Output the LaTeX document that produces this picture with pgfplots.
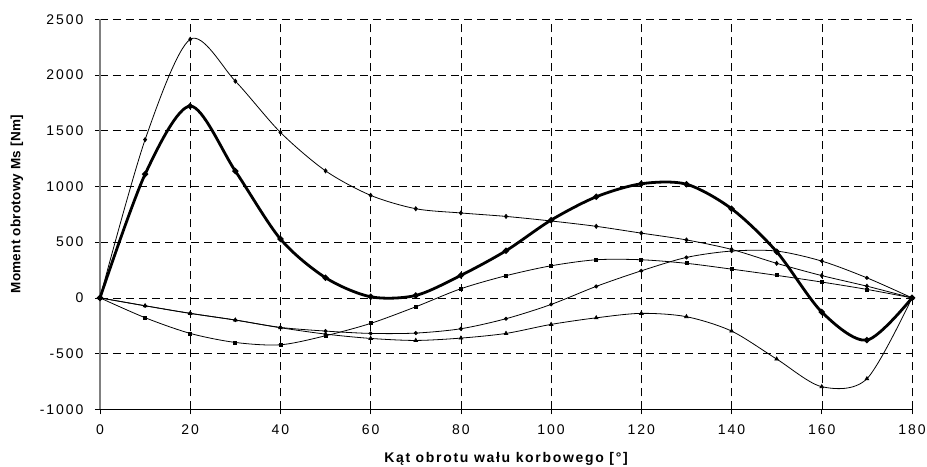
\documentclass[border=0pt]{standalone}
\usepackage{fontspec}
\setmainfont{Liberation Sans}
\newfontfamily\tickfont[LetterSpace=14]{Liberation Sans}
\newfontfamily\labfont[LetterSpace=12]{Liberation Sans}
\newfontfamily\ylabfont[LetterSpace=2]{Liberation Sans}
\usepackage{pgfplots}
\pgfplotsset{compat=1.18}
\begin{document}
\begin{tikzpicture}
\begin{axis}[
  scale only axis, width=812bp, height=390bp,
  xmin=0, xmax=180, ymin=-1000, ymax=2500,
  xtick={0,20,...,180}, ytick={-1000,-500,...,2500},
  axis x line*=bottom, axis y line*=left,
  tick align=outside, major tick length=5bp,
  grid=major,
  grid style={black, dash pattern=on 8bp off 5bp, line width=0.5bp},
  tick style={black, line width=0.6bp},
  x axis line style={black, line width=0.8bp},
  y axis line style={gray, line width=1.2bp},
  ticklabel style={font=\tickfont\fontsize{14bp}{16bp}\selectfont},
  yticklabel style={xshift=-8bp},
  xticklabel style={yshift=-7bp},
  /pgf/number format/assume math mode=true,
  /pgf/number format/1000 sep={},
  xlabel={Kąt obrotu wału korbowego [°]},
  ylabel={Moment obrotowy Ms [Nm]},
  xlabel style={font=\labfont\bfseries\fontsize{14bp}{16bp}\selectfont, at={(axis description cs:0.5,-0.128)}, anchor=center},
  ylabel style={font=\ylabfont\bfseries\fontsize{13.5bp}{16bp}\selectfont, at={(axis description cs:-0.1022,0.526)}, anchor=center},
  every axis plot/.append style={smooth, black},
  mark size=1.6bp,
]
\coordinate (sw) at (rel axis cs:0,0);
\coordinate (ne) at (rel axis cs:1,1);
% top series (diamonds)
\addplot[line width=0.8bp, mark=diamond*, mark size=2bp] coordinates {
(0,0) (10,1420) (20,2320) (30,1945) (40,1485) (50,1140) (60,920) (70,800) (80,762) (90,731)
(100,690) (110,642) (120,581) (130,520) (140,435) (150,310) (160,200) (170,105) (180,0)};
% square series
\addplot[line width=0.8bp, mark=square*, mark size=1.5bp] coordinates {
(0,0) (10,-178) (20,-319) (30,-400) (40,-421) (50,-340) (60,-229) (70,-80) (80,82) (90,199)
(100,288) (110,342) (120,342) (130,310) (140,258) (150,202) (160,142) (170,76) (180,0)};
% circle series
\addplot[line width=0.8bp, mark=*, mark size=1.6bp] coordinates {
(0,0) (10,-71) (20,-139) (30,-199) (40,-265) (50,-298) (60,-319) (70,-316) (80,-277) (90,-187)
(100,-59) (110,103) (120,243) (130,363) (140,420) (150,420) (160,330) (170,180) (180,0)};
% triangle series
\addplot[line width=0.8bp, mark=triangle*, mark size=2bp] coordinates {
(0,0) (10,-71) (20,-139) (30,-199) (40,-268) (50,-325) (60,-364) (70,-382) (80,-361) (90,-319)
(100,-238) (110,-179) (120,-139) (130,-169) (140,-298) (150,-549) (160,-797) (170,-726) (180,0)};
% thick series
\addplot[line width=2.8bp, mark=*, mark size=1.4bp] coordinates {
(0,0) (10,1110) (20,1721) (30,1138) (40,528) (50,181) (60,10) (70,22) (80,202) (90,423)
(100,698) (110,907) (120,1024) (130,1020) (140,800) (150,414) (160,-127) (170,-379) (180,0)};
\end{axis}
\pgfresetboundingbox
\path[use as bounding box] ([shift={(-100bp,-57bp)}]sw) rectangle ([shift={(15bp,19.3bp)}]ne);
\end{tikzpicture}
\end{document}
